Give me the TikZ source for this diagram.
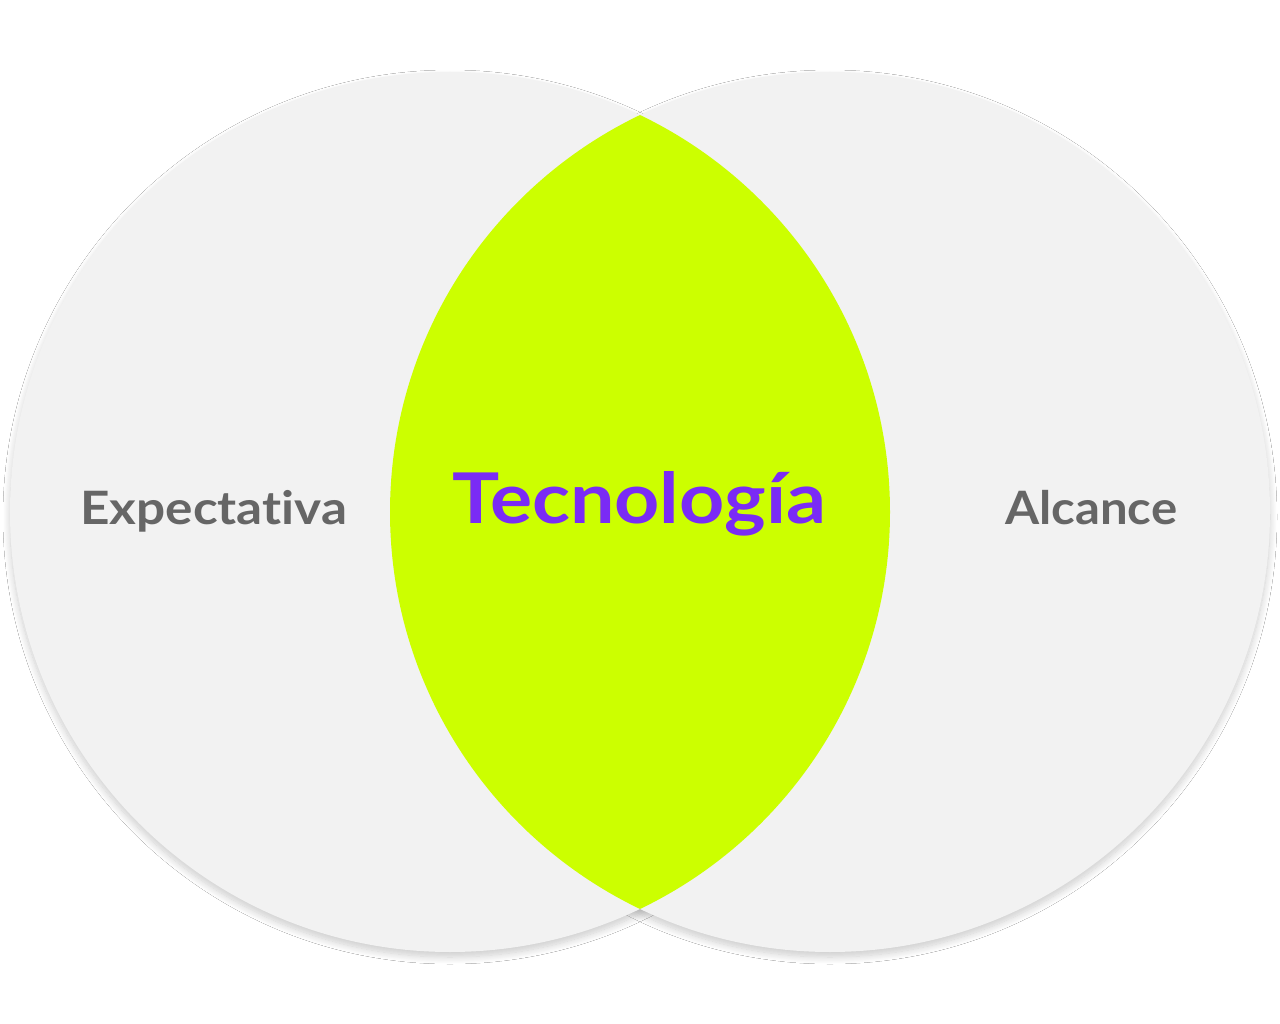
\documentclass[tikz,border=0pt]{standalone}
\usepackage{fontspec}
\setmainfont[Ligatures=NoCommon]{Lato}
\usetikzlibrary{shadows.blur}
\definecolor{circgray}{HTML}{F2F2F2}
\definecolor{lime}{HTML}{CCFF00}
\definecolor{violet}{HTML}{7A2BF5}
\definecolor{labelgray}{HTML}{666666}
\tikzset{
  shadowonly/.style={blur shadow={shadow xshift=0pt, shadow yshift=-5pt, shadow blur radius=7pt, shadow blur steps=14, shadow opacity=20}},
  setcircle/.style={fill=circgray},
  sidelabel/.style={text=labelgray, font=\fontsize{46}{50}\selectfont\bfseries, inner sep=0pt},
  mainlabel/.style={text=violet, font=\fontsize{70}{76}\selectfont\bfseries, inner sep=0pt}
}
\begin{document}
\begin{tikzpicture}[x=1pt,y=-1pt]
\useasboundingbox[fill=white] (0,0) rectangle (1280,1024);
\coordinate (cl) at (450,512);
\coordinate (cr) at (830,512);
\path[shadowonly] (cl) circle[radius=440];
\path[shadowonly] (cr) circle[radius=440];
\path[setcircle] (cl) circle[radius=440];
\path[setcircle] (cr) circle[radius=440];
\begin{scope}
  \clip (cl) circle[radius=440];
  \fill[lime] (cr) circle[radius=440];
\end{scope}
\node[sidelabel, anchor=base west] (expect) at (80,524) {\resizebox{267pt}{\height}{Expectativa}};
\node[sidelabel, anchor=base west] (alc) at (1005,524) {\resizebox{172pt}{\height}{Alcance}};
\node[mainlabel, anchor=base west] (tec) at (452,523) {\resizebox{374pt}{\height}{Tecnología}};
\end{tikzpicture}
\end{document}
